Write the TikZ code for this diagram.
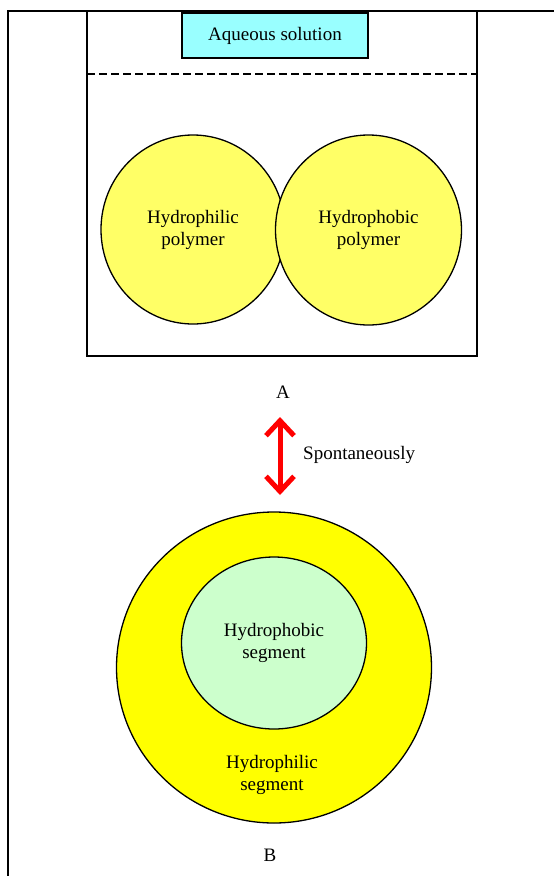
\documentclass[tikz,border=0pt]{standalone}
\usepackage{fontspec}
\setmainfont{Liberation Serif}
\usetikzlibrary{arrows.meta,shapes.geometric}
\definecolor{aqua}{HTML}{99FFFF}
\definecolor{lightyel}{HTML}{FFFF66}
\definecolor{brightyel}{HTML}{FFFF00}
\definecolor{mint}{HTML}{CCFFCC}
\tikzset{rbarb/.tip={Straight Barb[length=15pt, width=28pt]}}
\begin{document}
\begin{tikzpicture}[x=1pt,y=-1pt,
  font=\fontsize{19}{22}\selectfont,
  frame/.style={draw, line width=1.5pt, inner sep=0pt},
  blob/.style={ellipse, draw, line width=1.3pt, inner sep=0pt, align=center},
  lbl/.style={align=center, inner sep=0pt}]
\useasboundingbox (0,0) rectangle (554,876);
% outer frame
\coordinate (fb) at (8,876);
\coordinate (fc) at (8,11);
\coordinate (fr) at (554,11);
\draw[line width=1.5pt] (fb) -- (fc) -- (fr);
% container
\node[frame, minimum width=390pt, minimum height=345pt] (box) at (282,183.5) {};
\node[frame, fill=aqua, minimum width=186pt, minimum height=45pt] (aq) at (275,35.5) {Aqueous solution};
\coordinate (dl) at (87,74);
\coordinate (dr) at (477,74);
\draw[line width=2.5pt, dash pattern=on 8pt off 4pt] (dl) -- (dr);
% polymers
\node[blob, fill=lightyel, minimum width=184pt, minimum height=189pt] (phil) at (193,229.5) {Hydrophilic\\polymer};
\node[blob, fill=lightyel, minimum width=186pt, minimum height=190pt] (phob) at (368.5,230) {Hydrophobic\\polymer};
\node (A) at (283,392) {A};
% arrow
\coordinate (at) at (280,417);
\coordinate (ab) at (280,495);
\draw[red, line width=5pt, rbarb-rbarb] (at) -- (ab);
\node[anchor=west, inner sep=0pt] (sp) at (303,455) {Spontaneously};
% micelle
\node[blob, fill=brightyel, minimum width=315pt, minimum height=311pt] (outer) at (274,667.5) {};
\node[blob, fill=mint, minimum width=185pt, minimum height=172pt] (core) at (274,643) {Hydrophobic\\segment};
\node[lbl] (philseg) at (272,775) {Hydrophilic\\segment};
\node (B) at (270,855) {B};
\end{tikzpicture}
\end{document}
